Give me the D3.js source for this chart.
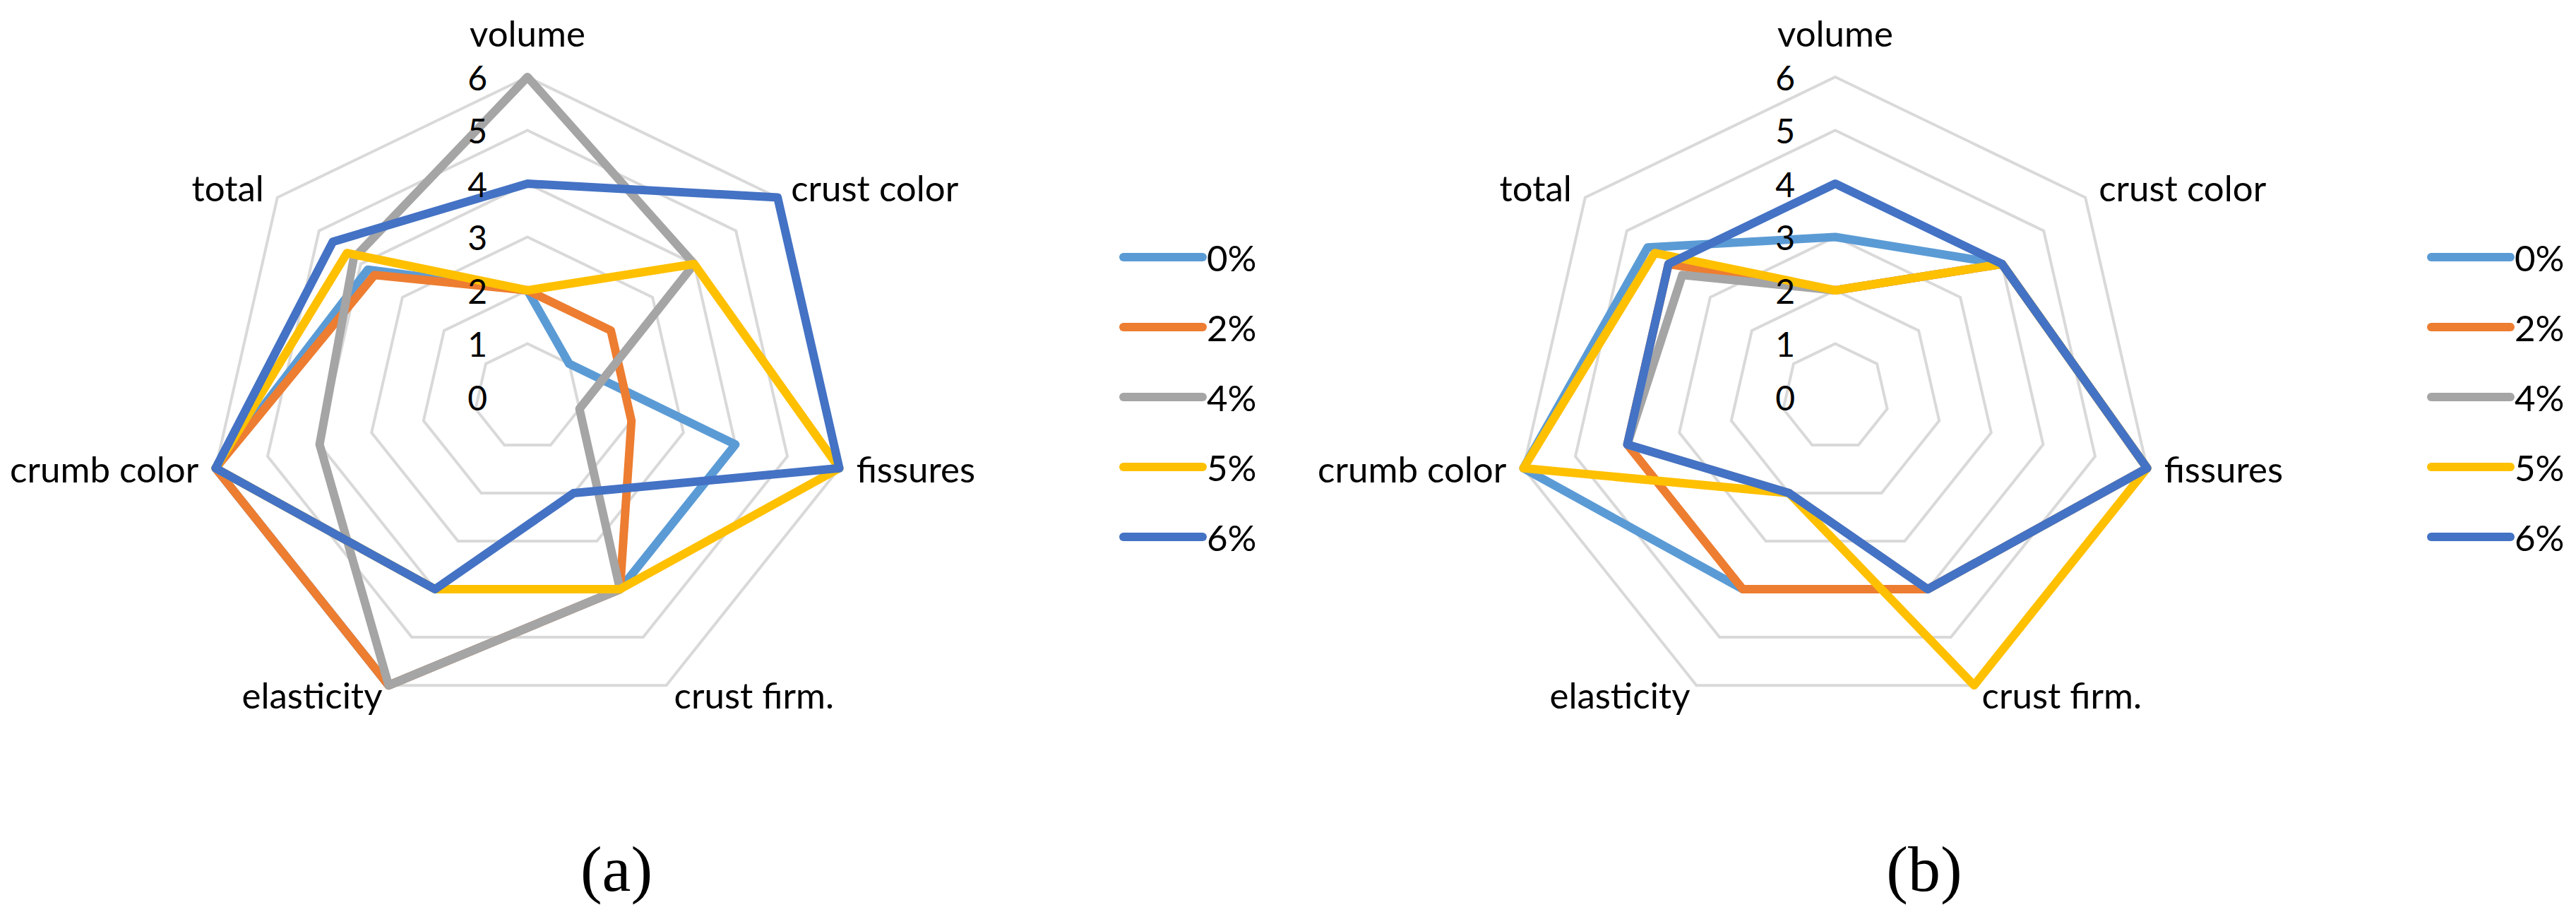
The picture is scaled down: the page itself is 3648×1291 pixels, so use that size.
<!DOCTYPE html>
<html>
<head>
<meta charset="utf-8">
<script src="https://cdn.jsdelivr.net/npm/d3@7"></script>
<style>
  html, body { margin: 0; padding: 0; background: #ffffff; }
  svg { display: block; }
</style>
</head>
<body>
<script>
// ---- data ----
const axes = ["volume", "crust color", "fissures", "crust firm.", "elasticity", "crumb color", "total"];
const seriesNames = ["0%", "2%", "4%", "5%", "6%"];
const tickValues = [0, 1, 2, 3, 4, 5, 6];
const panelLabels = ["(a)", "(b)"];

// panel (a)
const a0 = [2, 1, 4, 4, 6, 6, 3.83];
const a2 = [2, 2, 2, 4, 6, 6, 3.67];
const a4 = [6, 4, 1, 4, 6, 4, 4.17];
const a5 = [2, 4, 6, 4, 4, 6, 4.33];
const a6 = [4, 6, 6, 2, 4, 6, 4.67];

// panel (b)
const b0 = [3, 4, 6, 4, 4, 6, 4.5];
const b2 = [2, 4, 6, 4, 4, 4, 4.0];
const b4 = [2, 4, 6, 4, 2, 4, 3.67];
const b5 = [2, 4, 6, 6, 2, 6, 4.33];
const b6 = [4, 4, 6, 4, 2, 4, 4.0];

const colors = ["#5B9BD5", "#ED7D31", "#A5A5A5", "#FFC000", "#4472C4"];

// ---- layout ----
const W = 3648, H = 1291;
const panels = [
  { cx: 747, cy: 562, series: [a0, a2, a4, a5, a6], label: panelLabels[0] },
  { cx: 2599, cy: 562, series: [b0, b2, b4, b5, b6], label: panelLabels[1] }
];
const R = 453;
const font = "Lato, 'Open Sans', sans-serif";

const svg = d3.select("body").append("svg")
  .attr("width", W).attr("height", H)
  .attr("viewBox", `0 0 ${W} ${H}`);
svg.append("rect").attr("width", W).attr("height", H).attr("fill", "#ffffff");

const r = d3.scaleLinear().domain([0, 6]).range([0, R]);
const angle = d3.scalePoint().domain(d3.range(axes.length + 1)).range([0, 2 * Math.PI]);
const ang = i => angle(i);

// label placement relative to the outer vertex: [anchor, dx, dy(baseline)]
const labelPos = [
  ["middle", 0, -43],
  ["start", 19, 5],
  ["start", 24, 20],
  ["start", 11, 33],
  ["end", -9, 33],
  ["end", -24, 20],
  ["end", -19, 5]
];

const radial = d3.lineRadial()
  .angle((d, i) => ang(i))
  .radius(d => r(d))
  .curve(d3.curveLinearClosed);

panels.forEach(p => {
  const g = svg.append("g").attr("transform", `translate(${p.cx},${p.cy})`);

  // grid rings
  g.append("g").selectAll("path")
    .data(tickValues.filter(v => v > 0))
    .join("path")
    .attr("d", v => radial(axes.map(() => v)))
    .attr("fill", "none")
    .attr("stroke", "#D9D9D9")
    .attr("stroke-width", 4);

  // series
  g.append("g").selectAll("path")
    .data(p.series)
    .join("path")
    .attr("d", d => radial(d))
    .attr("fill", "none")
    .attr("stroke", (d, i) => colors[i])
    .attr("stroke-width", 12)
    .attr("stroke-linejoin", "round")
    .attr("stroke-linecap", "round");

  // tick labels
  g.append("g").selectAll("text")
    .data(tickValues)
    .join("text")
    .attr("x", -57)
    .attr("y", v => -r(v))
    .attr("text-anchor", "end")
    .attr("dominant-baseline", "central")
    .attr("font-family", font)
    .attr("font-size", 48)
    .attr("fill", "#000")
    .text(v => v);

  // axis labels
  g.append("g").selectAll("text")
    .data(axes)
    .join("text")
    .attr("x", (d, i) => r(6) * Math.sin(ang(i)) + labelPos[i][1])
    .attr("y", (d, i) => -r(6) * Math.cos(ang(i)) + labelPos[i][2])
    .attr("text-anchor", (d, i) => labelPos[i][0])
    .attr("font-family", font)
    .attr("font-size", 51)
    .attr("fill", "#000")
    .text(d => d);

  // legend
  const legY = d3.scalePoint().domain(seriesNames).range([-198, 198]);
  const leg = g.append("g");
  leg.selectAll("line")
    .data(seriesNames)
    .join("line")
    .attr("x1", 844).attr("x2", 956)
    .attr("y1", d => legY(d)).attr("y2", d => legY(d))
    .attr("stroke", (d, i) => colors[i])
    .attr("stroke-width", 12)
    .attr("stroke-linecap", "round");
  leg.selectAll("text")
    .data(seriesNames)
    .join("text")
    .attr("x", 962)
    .attr("y", d => legY(d))
    .attr("dominant-baseline", "central")
    .attr("font-family", font)
    .attr("font-size", 51)
    .attr("fill", "#000")
    .text(d => d);

  // panel label
  g.append("text")
    .attr("x", 126)
    .attr("y", 699)
    .attr("text-anchor", "middle")
    .attr("font-family", "'Liberation Serif', 'Times New Roman', serif")
    .attr("font-size", 92)
    .attr("fill", "#000")
    .text(p.label);
});
</script>
</body>
</html>
